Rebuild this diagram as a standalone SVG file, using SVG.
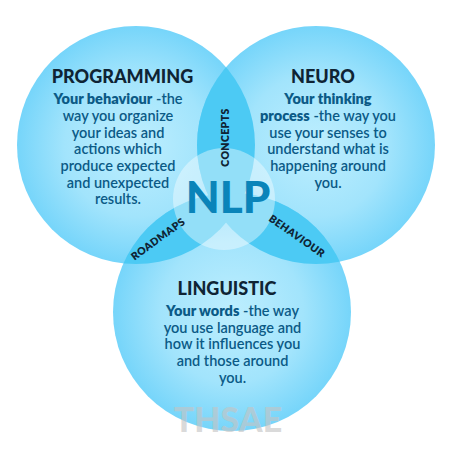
<svg xmlns="http://www.w3.org/2000/svg" width="450" height="450" viewBox="0 0 450 450">
<defs>
<radialGradient id="cg" cx="0.5" cy="0.5" r="0.5">
<stop offset="0" stop-color="#bdeefe"/>
<stop offset="0.6" stop-color="#a2e4fc"/>
<stop offset="1" stop-color="#76d5fa"/>
</radialGradient>
<clipPath id="clipL"><circle cx="136" cy="145" r="119"/></clipPath>
<clipPath id="clipR"><circle cx="316" cy="145" r="119"/></clipPath>
<style>
.title{font-family:Lato,"Noto Sans",sans-serif;font-weight:900;font-size:18px;fill:#0f2434;text-anchor:middle}
.body{font-family:Lato,"Noto Sans",sans-serif;font-weight:600;font-size:14.5px;fill:#0b5a86;text-anchor:middle}
.b{font-weight:800}
.lab{font-family:Lato,"Noto Sans",sans-serif;font-weight:800;font-size:10.5px;fill:#0f2434;text-anchor:middle;letter-spacing:0.4px}
.lens{fill:#4ccaf4}
</style>
</defs>
<g id="circles">
<circle cx="136" cy="145" r="119" fill="url(#cg)"/>
<circle cx="316" cy="145" r="119" fill="url(#cg)"/>
<circle cx="232" cy="312" r="119" fill="url(#cg)"/>
</g>
<g id="lenses">
<circle class="lens" cx="316" cy="145" r="119" clip-path="url(#clipL)"/>
<circle class="lens" cx="232" cy="312" r="119" clip-path="url(#clipL)"/>
<circle class="lens" cx="232" cy="312" r="119" clip-path="url(#clipR)"/>
</g>
<g id="watermark">
<text x="228" y="432" font-family="Lato,'Noto Sans',sans-serif" font-weight="900" font-size="34" fill="#c4c4c4" fill-opacity="0.65" text-anchor="middle">THSAE</text>
</g>
<g id="programming">
<text class="title" x="122.5" y="83">PROGRAMMING</text>
<text class="body" x="118" y="104"><tspan class="b">Your behaviour</tspan> -the</text>
<text class="body" x="118" y="121">way you organize</text>
<text class="body" x="118" y="137.7">your ideas and</text>
<text class="body" x="118" y="154.3">actions which</text>
<text class="body" x="118" y="171">produce expected</text>
<text class="body" x="118" y="187.7">and unexpected</text>
<text class="body" x="118" y="204.3">results.</text>
</g>
<g id="neuro">
<text class="title" x="323" y="83">NEURO</text>
<text class="body" x="328" y="104.3"><tspan class="b">Your thinking</tspan></text>
<text class="body" x="328" y="121"><tspan class="b">process</tspan> -the way you</text>
<text class="body" x="328" y="137.7">use your senses to</text>
<text class="body" x="328" y="154.3">understand what is</text>
<text class="body" x="328" y="171">happening around</text>
<text class="body" x="328" y="187.7">you.</text>
</g>
<g id="linguistic">
<text class="title" x="227" y="295">LINGUISTIC</text>
<text class="body" x="232.5" y="316"><tspan class="b">Your words</tspan> -the way</text>
<text class="body" x="232.5" y="332.7">you use language and</text>
<text class="body" x="232.5" y="349.3">how it influences you</text>
<text class="body" x="232.5" y="366">and those around</text>
<text class="body" x="232.5" y="382.7">you.</text>
</g>
<g id="nlp">
<circle cx="224" cy="199" r="51" fill="#ffffff" fill-opacity="0.4"/>
<text x="228" y="213" font-family="Lato,'Noto Sans',sans-serif" font-weight="900" font-size="44" fill="#0a84b9" text-anchor="middle">NLP</text>
</g>
<g id="concepts">
<text class="lab" transform="translate(225,137.5) rotate(-90)" dy="0.35em">CONCEPTS</text>
</g>
<g id="roadmaps">
<text class="lab" transform="translate(158,239) rotate(-36)" dy="0.35em">ROADMAPS</text>
</g>
<g id="behaviour">
<text class="lab" transform="translate(297,236) rotate(35)" dy="0.35em">BEHAVIOUR</text>
</g>
</svg>
